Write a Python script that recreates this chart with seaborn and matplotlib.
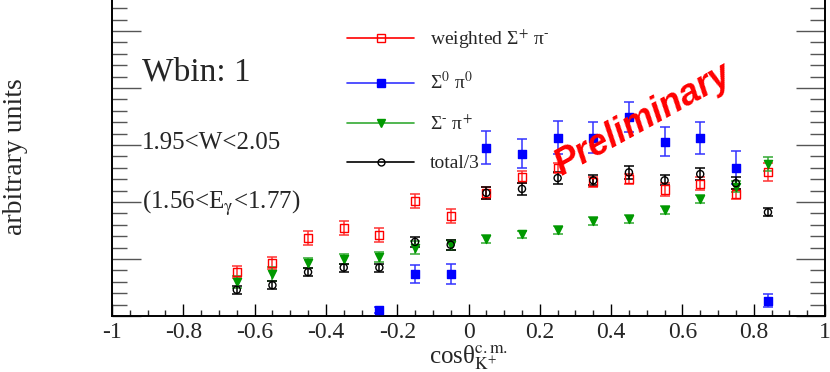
import numpy as np
import pandas as pd
import matplotlib
matplotlib.use("Agg")
import matplotlib.pyplot as plt
import seaborn as sns
from matplotlib.lines import Line2D
from matplotlib.ticker import MultipleLocator, FuncFormatter

# cos(theta) bin centres
cos_all = [-0.65, -0.55, -0.45, -0.35, -0.25, -0.15, -0.05, 0.05,
           0.15, 0.25, 0.35, 0.45, 0.55, 0.65, 0.75, 0.84]
cos_s0 = [-0.25, -0.15, -0.05, 0.05, 0.15, 0.25, 0.35, 0.45, 0.55, 0.65, 0.75, 0.84]

# weighted Sigma+ pi-
sp_val = [0.77, 0.93, 1.37, 1.54, 1.42, 2.02, 1.75, 2.16, 2.44, 2.60, 2.35, 2.40, 2.22, 2.32, 2.14, 2.52]
sp_err = [0.11, 0.11, 0.12, 0.12, 0.12, 0.12, 0.12, 0.11, 0.11, 0.09, 0.09, 0.09, 0.11, 0.11, 0.09, 0.16]

# Sigma0 pi0
s0_val = [0.11, 0.74, 0.74, 2.95, 2.85, 3.13, 3.13, 3.49, 3.06, 3.13, 2.60, 0.27]
s0_err = [0.05, 0.16, 0.17, 0.29, 0.26, 0.29, 0.27, 0.27, 0.26, 0.28, 0.29, 0.12]

# Sigma- pi+
sm_val = [0.60, 0.74, 0.93, 1.00, 1.03, 1.20, 1.24, 1.35, 1.43, 1.51, 1.67, 1.71, 1.86, 2.05, 2.27, 2.67]
sm_err = [0.11, 0.12, 0.09, 0.09, 0.09, 0.11, 0.09, 0.07, 0.07, 0.07, 0.07, 0.07, 0.07, 0.07, 0.09, 0.12]

# total / 3
tot_val = [0.46, 0.54, 0.77, 0.85, 0.85, 1.30, 1.25, 2.16, 2.23, 2.42, 2.38, 2.52, 2.38, 2.49, 2.33, 1.82]
tot_err = [0.07, 0.07, 0.07, 0.07, 0.07, 0.09, 0.09, 0.11, 0.11, 0.11, 0.09, 0.11, 0.09, 0.11, 0.11, 0.07]

labels = ["weighted Σ$^{+}$ π$^{\\text{-}}$", "Σ$^{0}$ π$^{0}$",
          "Σ$^{\\text{-}}$ π$^{+}$", "total/3"]

sns.set_theme(style="ticks")
plt.rcParams["font.family"] = ["Liberation Serif", "DejaVu Serif"]
plt.rcParams["mathtext.fontset"] = "stix"
plt.rcParams["axes.unicode_minus"] = False

fig = plt.figure(figsize=(8.3, 3.72), dpi=100)
ax = fig.add_axes([112 / 830, 56 / 372, 713 / 830, 316 / 372])

series = [
    (cos_all, sp_val, sp_err, "s", "none", "#ff0000", 34),
    (cos_s0, s0_val, s0_err, "s", "#0000ff", "#0000ff", 34),
    (cos_all, sm_val, sm_err, "v", "#009900", "#009900", 34),
    (cos_all, tot_val, tot_err, "o", "none", "#000000", 26),
]
err_colors = ["#ff3333", "#3333ff", "#33aa33", "#000000"]

for (x, y, e, m, fc, ec, s), bc in zip(series, err_colors):
    ax.errorbar(x, y, yerr=e, fmt="none", ecolor=bc, elinewidth=1.1,
                capsize=3.5, capthick=1.1, zorder=2)
    sns.scatterplot(x=x, y=y, ax=ax, marker=m, s=s, color=ec, facecolor=fc,
                    edgecolor=ec, linewidth=1.0, zorder=3, legend=False)

ax.set_xlim(-1, 1)
ax.set_ylim(0, 316 / 57)

ax.xaxis.set_major_locator(MultipleLocator(0.2))
ax.xaxis.set_minor_locator(MultipleLocator(0.05))
ax.yaxis.set_major_locator(MultipleLocator(1))
ax.yaxis.set_minor_locator(MultipleLocator(0.2))
ax.xaxis.set_major_formatter(FuncFormatter(lambda v, p: "%g" % round(v, 2)))
ax.tick_params(axis="x", which="major", direction="in", length=9, width=1,
               labelsize=17, pad=4, top=False, color="black")
ax.tick_params(axis="x", which="minor", direction="in", length=4.5, width=1, top=False)
ax.tick_params(axis="y", which="major", direction="in", length=21, width=1,
               left=True, right=True, labelleft=False, color="#555555")
ax.tick_params(axis="y", which="minor", direction="in", length=11, width=1,
               left=True, right=True, color="#555555")

for side in ["left", "bottom", "right"]:
    ax.spines[side].set_linewidth(1.4)
    ax.spines[side].set_color("black")
ax.spines["top"].set_visible(False)

ax.set_xlabel("cosθ${}^{\\mathrm{c.m.}}_{\\mathrm{K}^{+}}$", fontsize=18, labelpad=0)
ax.set_ylabel("arbitrary units", fontsize=20, va="center")
ax.yaxis.set_label_coords(-0.136, 0.503)

ax.text(-0.915, 4.28, "Wbin: 1", fontsize=24, ha="left", va="center")
ax.text(-0.915, 3.04, "1.95<W<2.05", fontsize=18, ha="left", va="center")
ax.text(-0.915, 1.97, "(1.56<E$_{\\mathrm{\\gamma}}$<1.77)", fontsize=18, ha="left", va="center")

ax.text(0.49, 3.44, "Preliminary", fontsize=26, color="#ff0000", fontweight="bold",
        fontstyle="italic", family="Liberation Sans", rotation=29,
        ha="center", va="center", rotation_mode="anchor")

handles = [
    Line2D([], [], color="#ff0000", lw=1.2, marker="s", markersize=6,
           markerfacecolor="none", markeredgecolor="#ff0000"),
    Line2D([], [], color="#3333ff", lw=1.2, marker="s", markersize=6,
           markerfacecolor="#0000ff", markeredgecolor="#0000ff"),
    Line2D([], [], color="#33aa33", lw=1.2, marker="v", markersize=6,
           markerfacecolor="#009900", markeredgecolor="#009900"),
    Line2D([], [], color="#000000", lw=1.2, marker="o", markersize=5,
           markerfacecolor="none", markeredgecolor="#000000"),
]
fig.legend(handles, labels, loc="upper left", bbox_to_anchor=(347 / 830, 1 - 27 / 372),
           frameon=False, fontsize=14, handlelength=3.45, handletextpad=0.8,
           labelspacing=1.07, borderpad=0, borderaxespad=0)

fig.savefig("out.png", dpi=100)
